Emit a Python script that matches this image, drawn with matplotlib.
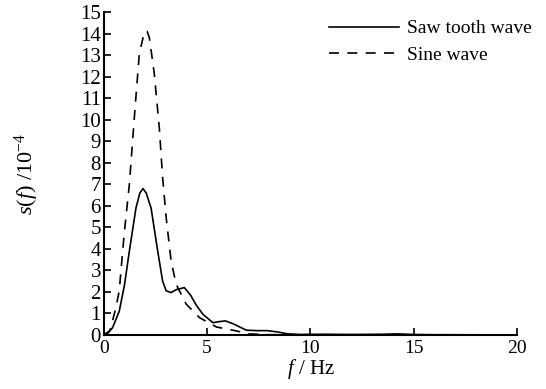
import numpy as np
import matplotlib.pyplot as plt

plt.rcParams['font.family'] = ['Liberation Serif', 'DejaVu Serif']
plt.rcParams['mathtext.fontset'] = 'custom'
plt.rcParams['mathtext.rm'] = 'Liberation Serif'
plt.rcParams['mathtext.it'] = 'Liberation Serif:italic'

# saw tooth wave spectrum
saw_f = [0, 0.2, 0.43, 0.75, 1.0, 1.24, 1.56, 1.75, 1.9, 2.05, 2.29, 2.61, 2.85,
         3.02, 3.26, 3.5, 3.9, 4.2, 4.5, 4.8, 5.28, 5.6, 5.9, 6.3, 6.9, 7.4, 7.9,
         8.4, 8.9, 9.5, 10.5, 12, 13.5, 14.2, 15, 16, 20]
saw_s = [0, 0.08, 0.34, 1.1, 2.3, 3.9, 5.9, 6.6, 6.8, 6.6, 5.9, 3.9, 2.5,
         2.05, 1.97, 2.1, 2.2, 1.85, 1.35, 0.96, 0.57, 0.62, 0.65, 0.5, 0.22, 0.2, 0.2,
         0.14, 0.05, 0.02, 0.03, 0.02, 0.03, 0.05, 0.02, 0.01, 0.0]

# sine wave spectrum
sine_f = [0, 0.3, 0.59, 0.75, 0.99, 1.24, 1.48, 1.72, 1.97, 2.1, 2.21, 2.45, 2.69,
          2.85, 3.02, 3.26, 3.5, 3.99, 4.64, 5.45, 6.4, 7.0, 8.0, 20]
sine_s = [0, 0.2, 1.27, 2.05, 4.7, 7.0, 10.1, 13.05, 14.1, 14.1, 13.8, 12.1, 9.6,
          7.3, 5.46, 3.44, 2.36, 1.43, 0.8, 0.37, 0.19, 0.05, 0.01, 0]

xticks = [0, 5, 10, 15, 20]
yticks = list(range(0, 16))

fig = plt.figure(figsize=(5.46, 3.89), dpi=100)
ax = fig.add_axes([0.19, 0.139, 0.757, 0.83])

ax.plot(saw_f, saw_s, color='black', lw=1.2, label='Saw tooth wave')
ax.plot(sine_f, sine_s, color='black', lw=1.2, dashes=(6, 5), label='Sine wave')

ax.set_xlim(0, 20)
ax.set_ylim(0, 15)
ax.set_xticks(xticks)
ax.set_yticks(yticks)
ax.tick_params(direction='in', length=5, width=1.2)
ax.tick_params(axis='y', labelsize=15, pad=2)
ax.tick_params(axis='x', labelsize=14, pad=4)
for side in ['top', 'right']:
    ax.spines[side].set_visible(False)
for side in ['left', 'bottom']:
    ax.spines[side].set_linewidth(1.5)

ax.set_xlabel(r'$\it{f}$ / Hz', fontsize=15, labelpad=0)
ax.set_ylabel(r'$\it{s}$($\it{f}$) /10$^{-4}$', fontsize=16, labelpad=28)

leg = ax.legend(loc='upper right', frameon=False, fontsize=14, handlelength=3.6,
                handletextpad=0.4, labelspacing=0.45, borderaxespad=0.0,
                bbox_to_anchor=(1.055, 1.0))

fig.savefig('out.png', dpi=100)
